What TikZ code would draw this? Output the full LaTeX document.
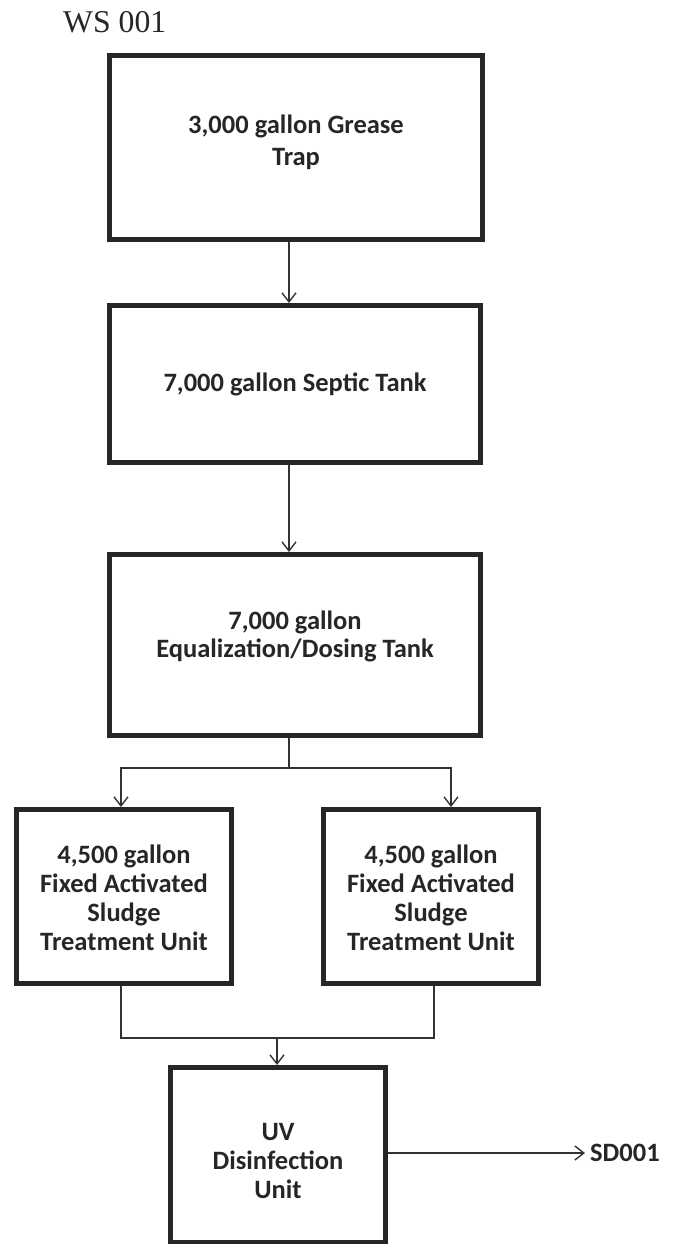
\documentclass[tikz,border=0pt]{standalone}
\usepackage{fontspec}
\setmainfont{Carlito}
\newfontfamily\titlefont{Liberation Serif}
\usetikzlibrary{arrows.meta}
\begin{document}
\begin{tikzpicture}[x=1pt,y=-1pt,
  tank/.style={draw=black!85, line width=5pt, fill=white, inner sep=0pt},
  txt/.style={align=center, inner sep=0pt, text=black!85, font=\bfseries\fontsize{26.5}{29}\selectfont},
  flow/.style={draw=black!80, line width=1.4pt},
  arr/.style={flow, -{Straight Barb[length=9pt,width=14pt,line width=1.4pt]}},
  lbl/.style={inner sep=0pt, text=black!85}]
\useasboundingbox (0,0) rectangle (674,1244);
\node[lbl, anchor=base west, font=\titlefont\fontsize{31.7}{36}\selectfont] (title) at (63,33) {WS 001};
% boxes
\node[tank, minimum width=373pt, minimum height=184pt] (b1) at (296,147.5) {};
\node[tank, minimum width=371pt, minimum height=157pt] (b2) at (295,384) {};
\node[tank, minimum width=371pt, minimum height=181pt] (b3) at (295,645) {};
\node[tank, minimum width=215pt, minimum height=174pt] (b4) at (124,896.5) {};
\node[tank, minimum width=215pt, minimum height=174pt] (b5) at (431,896.5) {};
\node[tank, minimum width=215pt, minimum height=175pt] (b6) at (278,1155) {};
% texts
\node[txt, font=\bfseries\fontsize{26.5}{32}\selectfont] (t1) at ([yshift=5pt]b1.center) {3,000 gallon Grease\\Trap};
\node[txt] (t2) at (b2.center) {7,000 gallon Septic Tank};
\node[txt, font=\bfseries\fontsize{26.5}{28}\selectfont] (t3) at ([yshift=9pt]b3.center) {7,000 gallon\\Equalization/Dosing Tank};
\node[txt] (t4) at ([yshift=-1pt]b4.center) {4,500 gallon\\Fixed Activated\\Sludge\\Treatment Unit};
\node[txt] (t5) at ([yshift=-1pt]b5.center) {4,500 gallon\\Fixed Activated\\Sludge\\Treatment Unit};
\node[txt] (t6) at ([yshift=-6pt]b6.center) {UV\\Disinfection\\Unit};
\node[lbl, anchor=west, font=\bfseries\fontsize{26.5}{30}\selectfont] (sdl) at (590,1153) {SD001};
% connectors
\coordinate (a1) at (289,0);
\draw[arr] (b1.south -| a1) -- (b2.north -| a1);
\draw[arr] (b2.south -| a1) -- (b3.north -| a1);
\coordinate (s3) at (289,768);
\coordinate (L) at (121,0);
\coordinate (R) at (451,0);
\draw[flow] (b3.south -| s3) -- (s3);
\draw[arr] (s3) -| (b4.north -| L);
\draw[arr] (s3) -| (b5.north -| R);
\coordinate (L2) at (121,1038);
\coordinate (R2) at (434,1038);
\coordinate (m) at (277,1038);
\draw[flow] (b4.south -| L2) -- (L2) -- (R2) -- (b5.south -| R2);
\draw[arr] (m) -- (b6.north -| m);
\draw[arr] (b6.east |- sdl.west) -- ([xshift=-5pt]sdl.west);
\end{tikzpicture}
\end{document}
